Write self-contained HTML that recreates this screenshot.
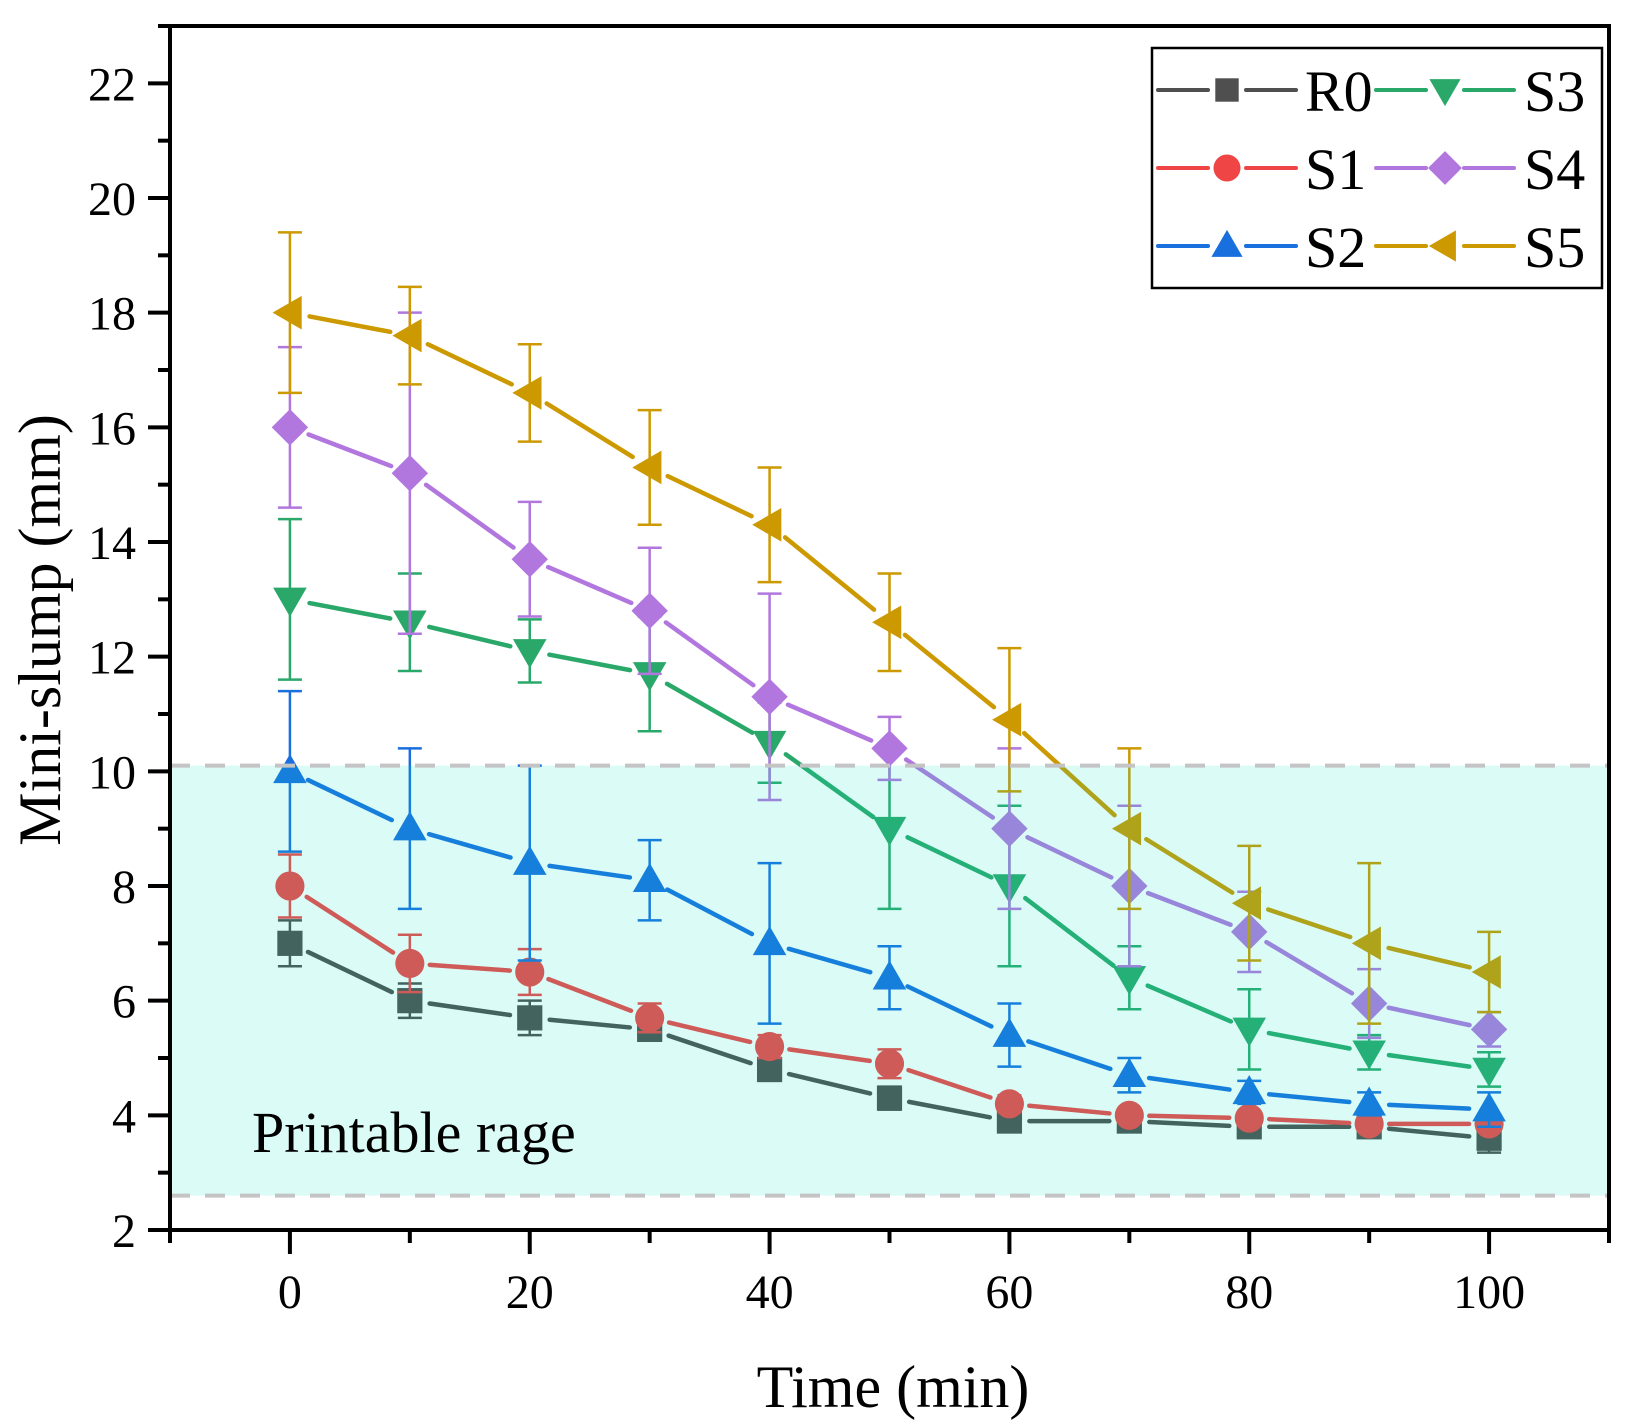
<!DOCTYPE html>
<html><head><meta charset="utf-8"><style>
html,body{margin:0;padding:0;background:#fff;}
svg{display:block;font-family:"Liberation Serif",serif;}
</style></head><body>
<svg id="chart" width="1626" height="1427" viewBox="0 0 1626 1427"></svg>
<script>
const times=[0,10,20,30,40,50,60,70,80,90,100];
const seriesNames=["R0","S1","S2","S3","S4","S5"];
const r0Vals=[7,6,5.7,5.5,4.8,4.3,3.9,3.9,3.8,3.8,3.6];
const r0Err=[0.4,0.3,0.3,0.2,0.2,0.2,0.15,0.15,0.1,0.1,0.25];
const s1Vals=[8,6.65,6.5,5.7,5.2,4.9,4.2,4.0,3.95,3.85,3.85];
const s1Err=[0.55,0.5,0.4,0.25,0.2,0.25,0.15,0.1,0.1,0.1,0.1];
const s2Vals=[10,9,8.4,8.1,7,6.4,5.4,4.7,4.4,4.2,4.1];
const s2Err=[1.4,1.4,1.7,0.7,1.4,0.55,0.55,0.3,0.2,0.2,0.3];
const s3Vals=[13,12.6,12.1,11.7,10.5,9,8,6.4,5.5,5.1,4.8];
const s3Err=[1.4,0.85,0.55,1.0,0.7,1.4,1.4,0.55,0.7,0.3,0.3];
const s4Vals=[16,15.2,13.7,12.8,11.3,10.4,9,8,7.2,5.95,5.5];
const s4Err=[1.4,2.8,1.0,1.1,1.8,0.55,1.4,1.4,0.7,0.6,0.3];
const s5Vals=[18,17.6,16.6,15.3,14.3,12.6,10.9,9,7.7,7,6.5];
const s5Err=[1.4,0.85,0.85,1.0,1.0,0.85,1.25,1.4,1.0,1.4,0.7];
const yTicks=[2,4,6,8,10,12,14,16,18,20,22];
const xTicks=[0,20,40,60,80,100];
const bandRange=[2.6,10.1];

const L=170,R=1609,T=26,B=1230;
const xMin=-10,xMax=110,yMin=2,yMax=23;
const X=v=>L+(v-xMin)/(xMax-xMin)*(R-L);
const Y=v=>B-(v-yMin)/(yMax-yMin)*(B-T);
const svg=document.getElementById('chart');
const NS='http://www.w3.org/2000/svg';
function mk(tag,attrs,parent){const e=document.createElementNS(NS,tag);for(const k in attrs)e.setAttribute(k,attrs[k]);(parent||svg).appendChild(e);return e;}

const colors=["#4f4f4f","#f04545","#1a6fdf","#2aa86a","#b177de","#cc9900"];
const markers=["square","circle","up","down","diamond","left"];
const vals=[r0Vals,s1Vals,s2Vals,s3Vals,s4Vals,s5Vals];
const errs=[r0Err,s1Err,s2Err,s3Err,s4Err,s5Err];

function marker(type,cx,cy,s,color,parent){
  let e;
  if(type==="square")e=mk('rect',{x:cx-s*0.45,y:cy-s*0.45,width:s*0.9,height:s*0.9,fill:color},parent);
  else if(type==="circle")e=mk('circle',{cx:cx,cy:cy,r:s*0.52,fill:color},parent);
  else if(type==="up")e=mk('polygon',{points:`${cx},${cy-s*0.62} ${cx-s*0.6},${cy+s*0.42} ${cx+s*0.6},${cy+s*0.42}`,fill:color},parent);
  else if(type==="down")e=mk('polygon',{points:`${cx},${cy+s*0.62} ${cx-s*0.6},${cy-s*0.42} ${cx+s*0.6},${cy-s*0.42}`,fill:color},parent);
  else if(type==="diamond")e=mk('polygon',{points:`${cx},${cy-s*0.65} ${cx+s*0.65},${cy} ${cx},${cy+s*0.65} ${cx-s*0.65},${cy}`,fill:color},parent);
  else e=mk('polygon',{points:`${cx-s*0.62},${cy} ${cx+s*0.42},${cy-s*0.6} ${cx+s*0.42},${cy+s*0.6}`,fill:color},parent);
  return e;
}

for(let si=0;si<6;si++){
  const g=mk('g',{});
  
  
  const c=colors[si],v=vals[si],er=errs[si];
  for(let i=0;i<times.length-1;i++){
    const x1=X(times[i]),y1=Y(v[i]),x2=X(times[i+1]),y2=Y(v[i+1]);
    const d=Math.hypot(x2-x1,y2-y1),gap=20;
    if(d>2*gap){const ux=(x2-x1)/d,uy=(y2-y1)/d;
      const ln=mk('line',{x1:x1+ux*gap,y1:y1+uy*gap,x2:x2-ux*gap,y2:y2-uy*gap,stroke:c,'stroke-width':4.5,'stroke-linecap':'round'},g);
      
      }
  }
  for(let i=0;i<times.length;i++){
    const cx=X(times[i]),hi=Y(v[i]+er[i]),lo=Y(v[i]-er[i]);
    const eb=mk('path',{d:`M${cx},${hi}V${lo}M${cx-12},${hi}H${cx+12}M${cx-12},${lo}H${cx+12}`,stroke:c,'stroke-width':2.5,fill:'none'},g);
    
    
    const m=marker(markers[si],cx,Y(v[i]),28,c,g);
    
    
  }
}

const band=mk('rect',{x:L,y:Y(bandRange[1]),width:R-L,height:Y(bandRange[0])-Y(bandRange[1]),fill:'rgb(0,230,200)','fill-opacity':0.14});


for(const bv of bandRange){
  const bl=mk('line',{x1:L,x2:R,y1:Y(bv),y2:Y(bv),stroke:'#c4c4c4','stroke-width':4,'stroke-dasharray':'20 15'});
  
  
}
const bt=mk('text',{x:252,y:1152,'font-size':58,fill:'#000'});
bt.textContent='Printable rage';



const fr=mk('rect',{x:L,y:T,width:R-L,height:B-T,fill:'none',stroke:'#000','stroke-width':4});



for(let v=2;v<=23;v++){
  const major=v%2===0;
  const t=mk('line',{x1:L,x2:L-(major?22:12),y1:Y(v),y2:Y(v),stroke:'#000','stroke-width':4});
  
  
}
yTicks.forEach(v=>{
  const t=mk('text',{x:L-34,y:Y(v)+17,'font-size':48,'text-anchor':'end'});
  t.textContent=v;
  
  
});
for(let v=-10;v<=110;v+=10){
  const major=v%20===0;
  const t=mk('line',{x1:X(v),x2:X(v),y1:B,y2:B+(major?24:13),stroke:'#000','stroke-width':4});
  
  
}
xTicks.forEach(v=>{
  const t=mk('text',{x:X(v),y:B+78,'font-size':48,'text-anchor':'middle'});
  t.textContent=v;
  
  
});
const xt=mk('text',{x:893,y:1407,'font-size':60,'text-anchor':'middle'});
xt.textContent='Time (min)';


const yt=mk('text',{x:0,y:0,'font-size':60,'text-anchor':'middle',transform:'translate(60,630) rotate(-90)'});
yt.textContent='Mini-slump (mm)';



const lg=mk('g',{});


mk('rect',{x:1152,y:48,width:450,height:240,fill:'#fff',stroke:'#000','stroke-width':2.5},lg);
const order=[[0,0],[1,0],[2,0],[3,1],[4,1],[5,1]];
order.forEach(([si,col],k)=>{
  const row=k%3;
  const x0=col===0?1158:1376, cy=90+row*78;
  const e=mk('g',{},lg);
  
  
  const c=colors[si];
  mk('line',{x1:x0,x2:x0+50,y1:cy,y2:cy,stroke:c,'stroke-width':4,'stroke-linecap':'round'},e);
  mk('line',{x1:x0+88,x2:x0+138,y1:cy,y2:cy,stroke:c,'stroke-width':4,'stroke-linecap':'round'},e);
  marker(markers[si],x0+69,cy,26,c,e);
  const t=mk('text',{x:col===0?1305:1524,y:cy+21,'font-size':58},e);
  t.textContent=seriesNames[si];
});
</script>
</body></html>
